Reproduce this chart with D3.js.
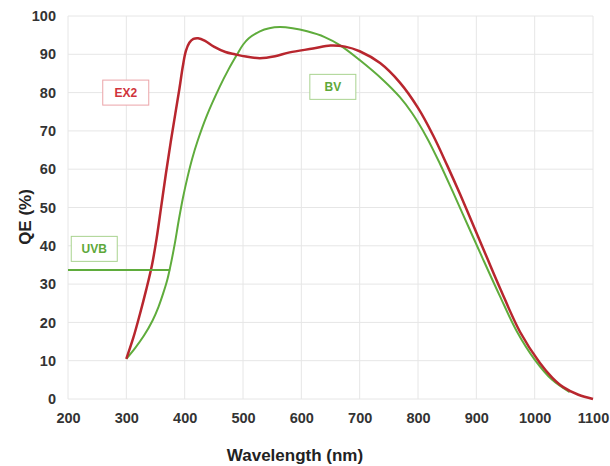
<!DOCTYPE html>
<html>
<head>
<meta charset="utf-8">
<script src="https://cdn.jsdelivr.net/npm/d3@7"></script>
<style>
  body { margin: 0; background: #fff; }
  svg { font-family: "Liberation Sans", Arial, sans-serif; }
</style>
</head>
<body>
<svg width="610" height="466"></svg>
<script>
// QE curves: [wavelength nm, QE %]
var ex2 = [
    [300, 10.5], [312, 16], [323, 22], [334, 28.5], [344, 35], [352, 42],
    [360, 50.5], [368, 59], [376, 67], [384, 74.5], [391, 81], [397, 87],
    [402, 90.8], [408, 93], [415, 94], [423, 94.2], [435, 93.5], [450, 92],
    [470, 90.6], [486, 90], [505, 89.4], [529, 89], [555, 89.5], [580, 90.5],
    [620, 91.5], [650, 92.3], [675, 92], [700, 90.8], [735, 87.7], [769, 82.6],
    [800, 76], [826, 68.8], [850, 61], [872, 53.5], [900, 43.5], [918, 37],
    [941, 28.8], [975, 17.5], [1009, 9.4], [1030, 5.6], [1049, 3.1],
    [1075, 1.1], [1100, 0]
];
var bv = [
    [300, 10.5], [315, 13.3], [330, 16.5], [345, 20.5], [355, 24], [363, 27.5],
    [370, 31], [375, 34.3], [383, 40.5], [390, 46.8], [397, 52.5], [405, 58],
    [413, 62.8], [422, 67.3], [438, 74], [460, 81.5], [475, 86], [490, 90],
    [500, 92.5], [510, 94.2], [529, 96], [545, 96.8], [563, 97.1], [585, 96.8],
    [610, 96], [640, 94.5], [666, 92.4], [700, 88.5], [740, 83.3], [769, 78.8],
    [790, 74.6], [815, 68.3], [838, 61.3], [860, 54], [885, 45.5], [910, 37],
    [940, 27], [970, 17.5], [1000, 10.3], [1030, 5], [1060, 1.8]
];
var uvb = [[200, 33.7], [375, 33.7]];

var xTicks = [200, 300, 400, 500, 600, 700, 800, 900, 1000, 1100];
var yTicks = [0, 10, 20, 30, 40, 50, 60, 70, 80, 90, 100];

// etichette: [testo, lunghezza d'onda, QE]
var labels = [
    ["EX2", 299, 80, "#d0343c", "#eba4a8"],
    ["BV", 654, 81.5, "#5ea83a", "#a9d38f"],
    ["UVB", 245, 39.2, "#5ea83a", "#a9d38f"]
];

var svg = d3.select("svg");
var x = d3.scaleLinear().domain([200, 1100]).range([68, 593]);
var y = d3.scaleLinear().domain([0, 100]).range([399, 16]);

// griglia
svg.append("g").selectAll("line").data(xTicks).enter().append("line")
    .attr("x1", d => x(d)).attr("x2", d => x(d))
    .attr("y1", y(0)).attr("y2", y(100))
    .attr("stroke", "#e6e6e6").attr("stroke-width", 1);
svg.append("g").selectAll("line").data(yTicks).enter().append("line")
    .attr("x1", x(200)).attr("x2", x(1100))
    .attr("y1", d => y(d)).attr("y2", d => y(d))
    .attr("stroke", "#e6e6e6").attr("stroke-width", 1);

// assi
var xAxis = svg.append("g")
    .attr("transform", "translate(0," + y(0) + ")")
    .call(d3.axisBottom(x).tickValues(xTicks).tickFormat(d3.format("d")).tickSize(0).tickPadding(14));
var yAxis = svg.append("g")
    .attr("transform", "translate(" + x(200) + ",0)")
    .call(d3.axisLeft(y).tickValues(yTicks).tickFormat(d3.format("d")).tickSize(0).tickPadding(12));
[xAxis, yAxis].forEach(function (a) {
    a.select(".domain").remove();
    a.selectAll("text")
        .attr("fill", "#333")
        .style("font-size", "14.5px")
        .style("font-weight", "bold")
        .style("font-family", "'Liberation Sans', Arial, sans-serif");
});

svg.append("text")
    .attr("x", 295).attr("y", 461)
    .attr("text-anchor", "middle")
    .attr("fill", "#222")
    .style("font-size", "17px").style("font-weight", "bold")
    .text("Wavelength (nm)");
svg.append("text")
    .attr("transform", "translate(31,217) rotate(-90)")
    .attr("text-anchor", "middle")
    .attr("fill", "#222")
    .style("font-size", "17px").style("font-weight", "bold")
    .text("QE (%)");

// curve
var line = d3.line()
    .x(d => x(d[0]))
    .y(d => y(d[1]))
    .curve(d3.curveCatmullRom.alpha(0.5));

svg.append("path")
    .attr("d", line(bv))
    .attr("fill", "none").attr("stroke", "#5fac3c").attr("stroke-width", 2);
svg.append("path")
    .attr("d", line(ex2))
    .attr("fill", "none").attr("stroke", "#b8262e").attr("stroke-width", 2.5);
svg.append("path")
    .attr("d", d3.line().x(d => x(d[0])).y(d => y(d[1]))(uvb))
    .attr("fill", "none").attr("stroke", "#5fac3c").attr("stroke-width", 2);

// riquadri con le etichette
var lab = svg.append("g").selectAll("g").data(labels).enter().append("g")
    .attr("transform", d => "translate(" + x(d[1]) + "," + y(d[2]) + ")");
lab.append("rect")
    .attr("x", -23).attr("y", -12.5).attr("width", 46).attr("height", 25)
    .attr("fill", "#fff")
    .attr("stroke", d => d[4]).attr("stroke-width", 1);
lab.append("text")
    .attr("text-anchor", "middle").attr("dy", "0.36em")
    .attr("fill", d => d[3])
    .style("font-size", "12px").style("font-weight", "bold")
    .text(d => d[0]);
</script>
</body>
</html>
